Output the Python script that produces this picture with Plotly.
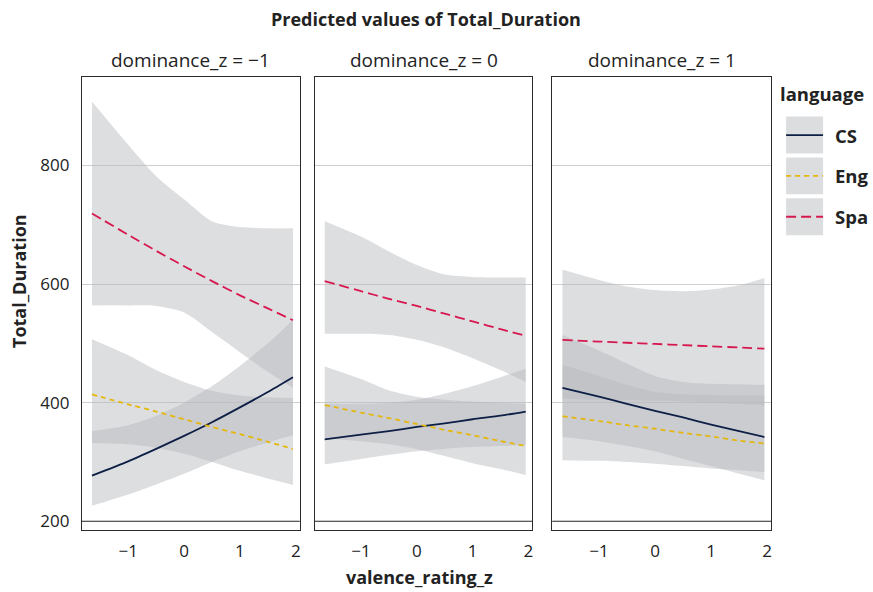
import plotly.graph_objects as go

W, H = 873, 592

# ---------------- data ----------------
x_vals = [-1.65, -1, -0.5, 0, 0.5, 1, 1.5, 1.95]
panels = ["dominance_z = \u22121", "dominance_z = 0", "dominance_z = 1"]
languages = ["CS", "Eng", "Spa"]

# panel 1: dominance_z = -1
p1_cs = [277, 301, 322, 344, 367, 392, 418, 443]
p1_cs_lo = [226, 245, 262, 280, 300, 318, 333, 345]
p1_cs_hi = [352, 362, 378, 400, 428, 462, 500, 540]
p1_eng = [414, 397, 385, 372, 359, 347, 334, 322]
p1_eng_lo = [332, 330, 324, 314, 300, 285, 272, 261]
p1_eng_hi = [507, 480, 455, 435, 420, 412, 409, 408]
p1_spa = [719, 683, 656, 630, 605, 581, 559, 539]
p1_spa_lo = [564, 564, 563, 552, 519, 485, 452, 425]
p1_spa_hi = [908, 835, 782, 743, 706, 696, 694, 694]

# panel 2: dominance_z = 0
p2_cs = [338, 346, 352, 359, 365, 372, 378, 385]
p2_cs_lo = [296, 305, 312, 318, 322, 325, 327, 328]
p2_cs_hi = [398, 398, 400, 405, 415, 428, 443, 457]
p2_eng = [396, 383, 374, 364, 354, 345, 335, 327]
p2_eng_lo = [340, 335, 330, 322, 310, 298, 288, 278]
p2_eng_hi = [461, 440, 421, 410, 405, 402, 400, 398]
p2_spa = [605, 588, 575, 563, 550, 537, 524, 513]
p2_spa_lo = [516, 516, 514, 506, 493, 475, 455, 435]
p2_spa_hi = [706, 680, 655, 632, 616, 612, 611, 611]

# panel 3: dominance_z = 1
p3_cs = [425, 410, 398, 386, 375, 363, 352, 342]
p3_cs_lo = [342, 335, 327, 318, 305, 293, 280, 269]
p3_cs_hi = [514, 488, 466, 445, 435, 432, 431, 430]
p3_eng = [377, 369, 362, 356, 349, 343, 336, 331]
p3_eng_lo = [303, 302, 300, 297, 293, 289, 286, 283]
p3_eng_hi = [464, 445, 430, 418, 414, 413, 412, 412]
p3_spa = [506, 503, 501, 499, 497, 495, 493, 491]
p3_spa_lo = [407, 405, 404, 403, 402, 400, 398, 395]
p3_spa_hi = [624, 607, 596, 590, 588, 591, 598, 610]

y_ticks = [200, 400, 600, 800]
x_ticks = [-1, 0, 1, 2]

panel_data = [
    {"CS": (p1_cs, p1_cs_lo, p1_cs_hi), "Eng": (p1_eng, p1_eng_lo, p1_eng_hi), "Spa": (p1_spa, p1_spa_lo, p1_spa_hi)},
    {"CS": (p2_cs, p2_cs_lo, p2_cs_hi), "Eng": (p2_eng, p2_eng_lo, p2_eng_hi), "Spa": (p2_spa, p2_spa_lo, p2_spa_hi)},
    {"CS": (p3_cs, p3_cs_lo, p3_cs_hi), "Eng": (p3_eng, p3_eng_lo, p3_eng_hi), "Spa": (p3_spa, p3_spa_lo, p3_spa_hi)},
]

# ---------------- styles ----------------
FONT = "Open Sans"
TXT = "#222222"
colors = {"CS": "#0d1f45", "Eng": "#e5b70c", "Spa": "#d7184f"}
dashes = {"CS": "solid", "Eng": "5px,4px", "Spa": "10px,5px"}
ribbon = "rgba(183,185,189,0.47)"

# panel pixel extents
panel_px = [(82, 300), (315, 533), (553, 772)]
top_px, bot_px = 77, 532
y_range = [184.9, 949.6]
x_range = [-1.83, 2.07]

def px(x):
    return x / W

def py(y):
    return 1 - y / H

fig = go.Figure()

for i, pdata in enumerate(panel_data):
    xa = "x" if i == 0 else f"x{i+1}"
    ya = "y" if i == 0 else f"y{i+1}"
    for lang in languages:
        _, lo, hi = pdata[lang]
        fig.add_trace(go.Scatter(
            x=x_vals, y=lo, mode="lines", line=dict(width=0, shape="spline", smoothing=0.8),
            hoverinfo="skip", showlegend=False, xaxis=xa, yaxis=ya))
        fig.add_trace(go.Scatter(
            x=x_vals, y=hi, mode="lines", line=dict(width=0, shape="spline", smoothing=0.8),
            fill="tonexty", fillcolor=ribbon,
            hoverinfo="skip", showlegend=False, xaxis=xa, yaxis=ya))
    for lang in languages:
        mid, _, _ = pdata[lang]
        fig.add_trace(go.Scatter(
            x=x_vals, y=mid, mode="lines", name=lang,
            line=dict(color=colors[lang], width=1.8, dash=dashes[lang], shape="spline", smoothing=0.6),
            showlegend=False, xaxis=xa, yaxis=ya))

layout = dict(
    width=W, height=H,
    margin=dict(l=0, r=0, t=0, b=0),
    paper_bgcolor="white", plot_bgcolor="white",
    font=dict(family=FONT, size=15, color=TXT),
    showlegend=False,
    hovermode=False,
)

for i, (l, r) in enumerate(panel_px):
    xkey = "xaxis" if i == 0 else f"xaxis{i+1}"
    ykey = "yaxis" if i == 0 else f"yaxis{i+1}"
    ya = "y" if i == 0 else f"y{i+1}"
    xa = "x" if i == 0 else f"x{i+1}"
    layout[xkey] = dict(
        domain=[px(l), px(r)], range=x_range, anchor=ya,
        tickvals=x_ticks, ticks="", showgrid=False, zeroline=False,
        showline=True, mirror=True, linecolor="#2a2a2a", linewidth=1,
        tickfont=dict(size=17, color=TXT), ticklabelstandoff=5)
    layout[ykey] = dict(
        domain=[py(bot_px), py(top_px)], range=y_range, anchor=xa,
        tickvals=y_ticks, ticks="", showgrid=True, gridcolor="#cfcfcf", gridwidth=1,
        zeroline=False, showline=True, mirror=True, linecolor="#2a2a2a", linewidth=1,
        showticklabels=(i == 0), tickfont=dict(size=17, color=TXT),
        ticklabelstandoff=8)
    if i > 0:
        layout[ykey]["matches"] = "y"

fig.update_layout(**layout)

# dark baseline at y = 200 in each panel
for i in range(3):
    xa = "x" if i == 0 else f"x{i+1}"
    ya = "y" if i == 0 else f"y{i+1}"
    fig.add_shape(type="line", xref=f"{xa} domain", yref=ya, x0=0, x1=1,
                  y0=y_ticks[0], y1=y_ticks[0], line=dict(color="#333333", width=1))

# facet labels
for i, (l, r) in enumerate(panel_px):
    fig.add_annotation(text=panels[i], x=px((l + r) / 2), y=py(60), xref="paper", yref="paper",
                       showarrow=False, font=dict(size=19, color=TXT),
                       xanchor="center", yanchor="middle")

# title
fig.add_annotation(text="<b>Predicted values of Total_Duration</b>", x=px(426), y=py(19),
                   xref="paper", yref="paper", showarrow=False,
                   font=dict(size=18, color=TXT), xanchor="center", yanchor="middle")
# axis titles
fig.add_annotation(text="<b>valence_rating_z</b>", x=px(420), y=py(579), xref="paper", yref="paper",
                   showarrow=False, font=dict(size=18, color=TXT),
                   xanchor="center", yanchor="middle")
fig.add_annotation(text="<b>Total_Duration</b>", x=px(19), y=py(282), xref="paper", yref="paper",
                   showarrow=False, textangle=-90, font=dict(size=18, color=TXT),
                   xanchor="center", yanchor="middle")

# custom legend
fig.add_annotation(text="<b>language</b>", x=px(779), y=py(94), xref="paper", yref="paper",
                   showarrow=False, font=dict(size=18.5, color=TXT),
                   xanchor="left", yanchor="middle")
box_tops = [117, 158, 199]
for lang, bt in zip(languages, box_tops):
    fig.add_shape(type="rect", xref="paper", yref="paper",
                  x0=px(787), x1=px(824), y0=py(bt), y1=py(bt + 37),
                  fillcolor="#dcdddf", line=dict(width=0), layer="above")
    cy = bt + 18.5
    fig.add_shape(type="line", xref="paper", yref="paper",
                  x0=px(787), x1=px(824), y0=py(cy), y1=py(cy),
                  line=dict(color=colors[lang], width=1.8, dash=dashes[lang]), layer="above")
    fig.add_annotation(text=f"<b>{lang}</b>", x=px(834), y=py(cy), xref="paper", yref="paper",
                       showarrow=False, font=dict(size=18.5, color=TXT),
                       xanchor="left", yanchor="middle")

fig.write_html("out.html", config={"displayModeBar": False, "staticPlot": True},
               post_script="document.body.style.margin='0px';document.body.style.overflow='hidden';")
